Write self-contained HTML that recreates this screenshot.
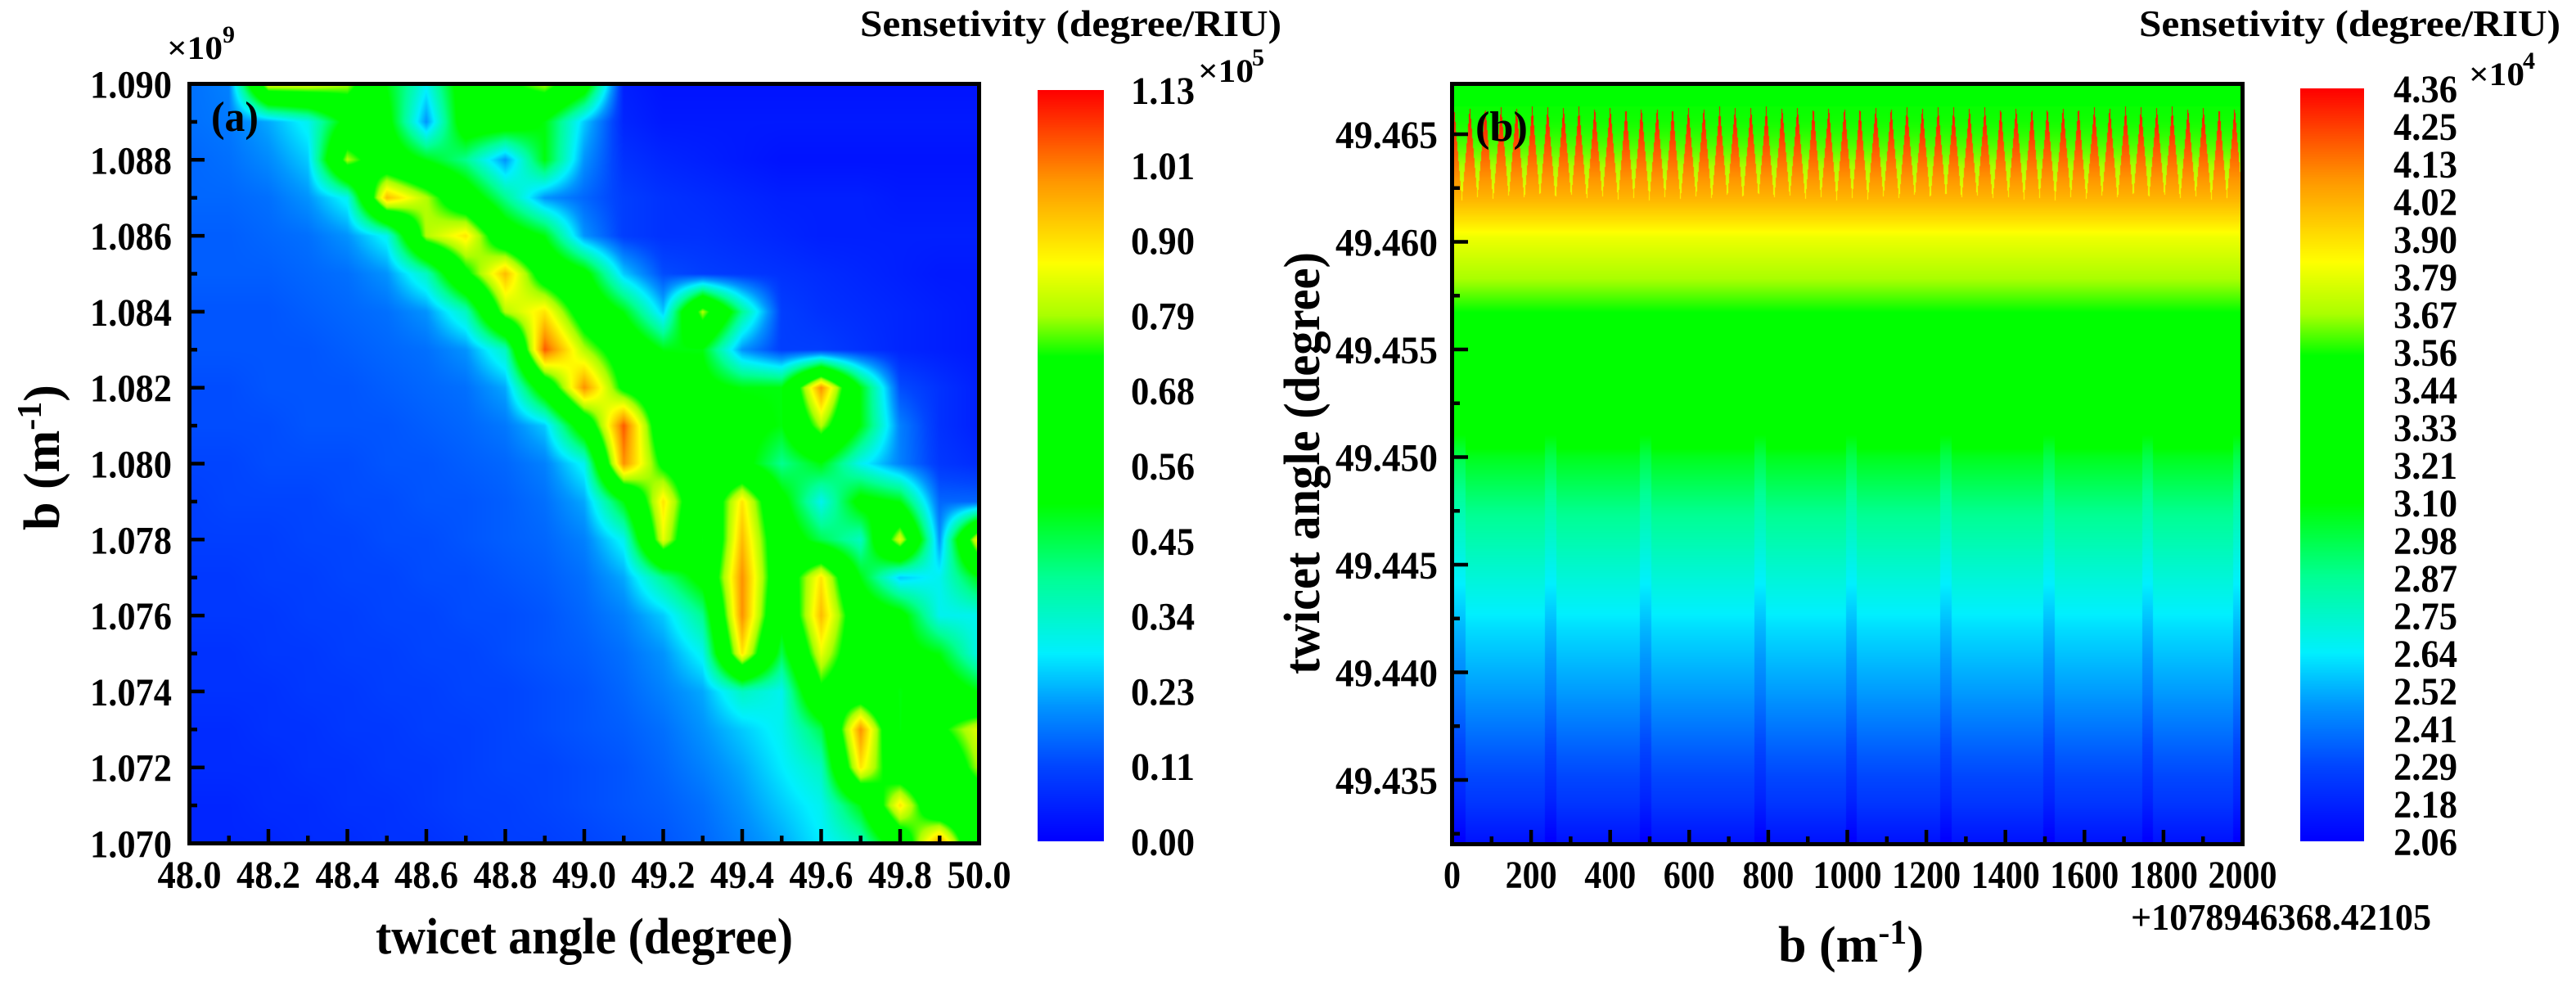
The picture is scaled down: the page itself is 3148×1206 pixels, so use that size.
<!DOCTYPE html>
<html><head><meta charset="utf-8"><style>
html,body{margin:0;padding:0;background:#fff;}
#root{position:relative;width:3148px;height:1206px;overflow:hidden;background:#fff;}
canvas{position:absolute;}
svg{position:absolute;left:0;top:0;}
text{font-family:"Liberation Serif",serif;font-weight:bold;fill:#000;}
</style></head><body>
<div id="root">
<canvas id="ca" style="left:234px;top:105px" width="960" height="923"></canvas>
<canvas id="cb" style="left:1777px;top:105px" width="962" height="925"></canvas>
<canvas id="cbarA" style="left:1268px;top:110px" width="81" height="918"></canvas>
<canvas id="cbarB" style="left:2811px;top:108px" width="78" height="920"></canvas>
<svg id="ov" width="3148" height="1206"></svg>
</div>
<script>
// ---------- data: panel (a) ----------
const aXCats = [48.0,48.1,48.2,48.3,48.4,48.5,48.6,48.7,48.8,48.9,49.0,49.1,49.2,49.3,49.4,49.5,49.6,49.7,49.8,49.9,50.0];
const aYCats = [1.090,1.089,1.088,1.087,1.086,1.085,1.084,1.083,1.082,1.081,1.080,1.079,1.078,1.077,1.076,1.075,1.074,1.073,1.072,1.071,1.070];
// sensitivity (x1e4 degree/RIU), rows top->bottom
const aRow00=[1.6,1.8,8.5,8.5,8,5,3,6,7,8,6,0.5,0.3,0.3,0.3,0.3,0.3,0.3,0.3,0.3,0.3];
const aRow01=[1.6,1.7,2.2,3,5.5,5.5,2,6,6,5,2.5,0.6,0.4,0.4,0.4,0.4,0.4,0.4,0.4,0.4,0.4];
const aRow02=[1.5,1.6,1.9,2.5,8,6,5,4,2,5,2,0.8,0.6,0.5,0.4,0.3,0.3,0.3,0.3,0.3,0.3];
const aRow03=[1.5,1.5,1.6,2.0,3,9.5,8,6,4,2,1.5,1.0,0.8,0.7,0.6,0.5,0.5,0.5,0.4,0.4,0.4];
const aRow04=[1.4,1.4,1.5,1.6,2.0,3,8,9,6,5,2,1.0,0.8,0.8,0.7,0.6,0.5,0.5,0.5,0.5,0.5];
const aRow05=[1.4,1.4,1.4,1.5,1.6,2.0,3.5,7,9.5,6.5,5.5,2.5,1.2,1,0.9,0.8,0.7,0.6,0.5,0.4,0.4];
const aRow06=[1.3,1.3,1.3,1.4,1.5,1.6,2.0,3.5,8,9,6.5,5,2.5,8,4,1.0,0.8,0.7,0.6,0.5,0.4];
const aRow07=[1.3,1.3,1.3,1.3,1.4,1.5,1.6,2.0,3.5,10.5,8,6.5,5,5,2,1.0,1.0,0.8,0.6,0.5,0.4];
const aRow08=[1.2,1.2,1.3,1.3,1.3,1.4,1.5,1.6,2.2,6,10,7,6,5.5,5,5,10,5,1.2,0.8,0.5];
const aRow09=[1.2,1.2,1.2,1.3,1.3,1.3,1.4,1.5,1.7,2.5,6,10.5,6,6,5.5,5,8,5,1.8,0.8,0.5];
const aRow10=[1.1,1.1,1.2,1.2,1.2,1.3,1.3,1.4,1.5,1.8,3,10,7,6,5.5,4,5,3,1.8,0.9,0.7];
const aRow11=[1.0,1.1,1.1,1.1,1.2,1.2,1.3,1.3,1.4,1.6,2.2,5,9,5.5,9,5.5,3,5.5,5,1.5,1.5];
const aRow12=[1.0,1.0,1.0,1.1,1.1,1.2,1.2,1.3,1.4,1.5,1.8,3,8.5,5,9.5,6,4.5,3.5,8.5,2,9];
const aRow13=[0.9,0.9,1.0,1.0,1.1,1.1,1.2,1.2,1.3,1.4,1.6,2.2,4,5.5,10,6,9,5,2.5,3,5];
const aRow14=[0.9,0.9,0.9,1.0,1.0,1.1,1.1,1.2,1.2,1.3,1.5,1.8,2.5,4,10,5.5,9.5,6,5.5,3,3];
const aRow15=[0.8,0.8,0.9,0.9,1.0,1.0,1.1,1.1,1.2,1.3,1.4,1.6,2,3,9,4.5,8.5,6,5.5,5,3];
const aRow16=[0.8,0.8,0.8,0.9,0.9,1.0,1.0,1.1,1.1,1.2,1.3,1.5,1.8,2.2,3.5,3,7,6,5,6,5];
const aRow17=[0.7,0.7,0.8,0.8,0.9,0.9,1.0,1.0,1.1,1.2,1.3,1.4,1.6,2,2.5,3,4.5,10,5,7,8.5];
const aRow18=[0.7,0.7,0.7,0.8,0.8,0.9,0.9,1.0,1.1,1.1,1.2,1.3,1.5,1.8,2.2,2.8,3.5,9,6,5.5,8];
const aRow19=[0.6,0.6,0.7,0.7,0.8,0.8,0.9,1.0,1.0,1.1,1.2,1.3,1.4,1.6,2,2.5,3,5,9,5.5,6];
const aRow20=[0.6,0.6,0.6,0.7,0.7,0.8,0.8,0.9,1.0,1.0,1.1,1.2,1.3,1.5,1.8,2.2,2.8,3.5,6,10,5];
const aGrid=[aRow00,aRow01,aRow02,aRow03,aRow04,aRow05,aRow06,aRow07,aRow08,aRow09,aRow10,aRow11,aRow12,aRow13,aRow14,aRow15,aRow16,aRow17,aRow18,aRow19,aRow20];
const aXTicks=["48.0","48.2","48.4","48.6","48.8","49.0","49.2","49.4","49.6","49.8","50.0"];
const aYTicks=["1.070","1.072","1.074","1.076","1.078","1.080","1.082","1.084","1.086","1.088","1.090"];
const aCbarLabels=["0.00","0.11","0.23","0.34","0.45","0.56","0.68","0.79","0.90","1.01","1.13"];
const aMin=0, aMax=11.3;

// ---------- data: panel (b) ----------
const bProfileY=[49.4674,49.4669,49.4662,49.4640,49.4619,49.4610,49.4602,49.4590,49.4580,49.4568,49.4555,49.4540,49.4525,49.4500,49.4475,49.4450,49.4420,49.4390,49.4360,49.4340,49.4321];
const bProfileV=[3.5,3.5,3.55,3.9,4.0,3.9,3.8,3.72,3.65,3.55,3.45,3.4,3.32,3.05,2.88,2.75,2.6,2.48,2.33,2.24,2.12];
const bSpikes=[5,45,84,124,163,203,242,282,321,361,400,440,479,519,558,598,637,677,716,756,795,835,874,914,953,993,1032,1072,1111,1151,1190,1230,1269,1309,1348,1388,1427,1467,1506,1546,1585,1625,1664,1704,1743,1783,1822,1862,1901,1941,1980];
const bStripes=[20,250,490,780,1010,1250,1510,1760,1990];
const bXTicks=["0","200","400","600","800","1000","1200","1400","1600","1800","2000"];
const bYTicks=["49.435","49.440","49.445","49.450","49.455","49.460","49.465"];
const bCbarLabels=["2.06","2.18","2.29","2.41","2.52","2.64","2.75","2.87","2.98","3.10","3.21","3.33","3.44","3.56","3.67","3.79","3.90","4.02","4.13","4.25","4.36"];
const bMin=2.06, bMax=4.36;

// ---------- colormap ----------
const cmStops=[[0,0,0,255],[0.1,0,70,255],[0.18,0,150,255],[0.25,0,240,255],[0.35,0,255,150],[0.45,0,255,0],[0.645,0,255,0],[0.7,170,255,0],[0.77,255,255,0],[0.88,255,150,0],[1,255,0,0]];
function cmap(f){
  f=Math.max(0,Math.min(1,f));
  for(let i=1;i<cmStops.length;i++){
    if(f<=cmStops[i][0]){const a=cmStops[i-1],b=cmStops[i];const t=(f-a[0])/(b[0]-a[0]);
      return [a[1]+(b[1]-a[1])*t,a[2]+(b[2]-a[2])*t,a[3]+(b[3]-a[3])*t];}
  }
  return [255,0,0];
}
// ---------- scales ----------
const A={x0:231.5,x1:1196.5,y0:102.5,y1:1030.5,vx0:48,vx1:50,vy0:1.090,vy1:1.070};
const axA=v=>A.x0+(v-A.vx0)/(A.vx1-A.vx0)*(A.x1-A.x0);
const ayA=v=>A.y0+(A.vy0-v)/(A.vy0-A.vy1)*(A.y1-A.y0);
const B={x0:1774.5,x1:2740.5};
const axB=v=>B.x0+v/2000*(B.x1-B.x0);
const ayB=v=>164+(49.465-v)/0.005*131.5;

// ---------- draw heatmap a ----------
(function(){
  const c=document.getElementById('ca'),ctx=c.getContext('2d');
  const W=c.width,H=c.height,img=ctx.createImageData(W,H);
  const nx=aXCats.length,ny=aYCats.length;
  const gx0=axA(aXCats[0]),gx1=axA(aXCats[nx-1]),gy0=ayA(aYCats[0]),gy1=ayA(aYCats[ny-1]);
  for(let py=0;py<H;py++){
    const Y=105+py+0.5;let fy=(Y-gy0)/(gy1-gy0)*(ny-1);fy=Math.max(0,Math.min(ny-1.0001,fy));
    const j=Math.floor(fy),ty=fy-j;
    for(let px=0;px<W;px++){
      const X=234+px+0.5;let fx=(X-gx0)/(gx1-gx0)*(nx-1);fx=Math.max(0,Math.min(nx-1.0001,fx));
      const i=Math.floor(fx),tx=fx-i;
      const v=(aGrid[j][i]*(1-tx)+aGrid[j][i+1]*tx)*(1-ty)+(aGrid[j+1][i]*(1-tx)+aGrid[j+1][i+1]*tx)*ty;
      const col=cmap((v-aMin)/(aMax-aMin));const k=(py*W+px)*4;
      img.data[k]=col[0];img.data[k+1]=col[1];img.data[k+2]=col[2];img.data[k+3]=255;
    }
  }
  ctx.putImageData(img,0,0);
})();
// ---------- draw heatmap b ----------
function profB(v){
  if(v>=bProfileY[0])return bProfileV[0];
  for(let i=1;i<bProfileY.length;i++){if(v>=bProfileY[i]){const t=(bProfileY[i-1]-v)/(bProfileY[i-1]-bProfileY[i]);return bProfileV[i-1]+(bProfileV[i]-bProfileV[i-1])*t;}}
  return bProfileV[bProfileV.length-1];
}
(function(){
  const c=document.getElementById('cb'),ctx=c.getContext('2d');
  const W=c.width,H=c.height,img=ctx.createImageData(W,H);
  const half=(bSpikes[1]-bSpikes[0])/2;
  const spTop=49.4663,spBot=49.4619;
  for(let py=0;py<H;py++){
    const Y=105+py+0.5;const vy=49.465-(Y-164)/131.5*0.005;
    const base=profB(vy);
    for(let px=0;px<W;px++){
      const X=1777+px+0.5;const vx=(X-B.x0)/(B.x1-B.x0)*2000;
      let v=base;
      if(vy<spTop&&vy>spBot){
        let d=1e9;for(const s of bSpikes){const dd=Math.abs(vx-s);if(dd<d)d=dd;}
        const u=Math.min(1,d/half);const t=(spTop-vy)/(spTop-spBot);
        if(u<t) v=4.36-0.36*t+0.0*u; else v=3.55+0.3*t*t;
      }
      if(vy<49.4535){let d=1e9;for(const s of bStripes){const dd=Math.abs(vx-s);if(dd<d)d=dd;}
        if(d<14)v-=0.07;}
      const col=cmap((v-bMin)/(bMax-bMin));const k=(py*W+px)*4;
      img.data[k]=col[0];img.data[k+1]=col[1];img.data[k+2]=col[2];img.data[k+3]=255;
    }
  }
  ctx.putImageData(img,0,0);
})();
// ---------- colorbars ----------
function drawBar(id){const c=document.getElementById(id),ctx=c.getContext('2d');
  for(let y=0;y<c.height;y++){const col=cmap(1-y/(c.height-1));ctx.fillStyle=`rgb(${col[0]|0},${col[1]|0},${col[2]|0})`;ctx.fillRect(0,y,c.width,1);}}
drawBar('cbarA');drawBar('cbarB');

// ---------- SVG overlay ----------
const NS='http://www.w3.org/2000/svg',svg=document.getElementById('ov');
function el(tag,attrs,txt){const e=document.createElementNS(NS,tag);for(const k in attrs)e.setAttribute(k,attrs[k]);if(txt!==undefined)e.textContent=txt;svg.appendChild(e);return e;}
function txt(x,y,s,size,anchor,name,extra){const e=el('text',Object.assign({x:x,y:y,'font-size':size,'text-anchor':anchor||'start'},extra||{}),s);
  
  return e;}
function line(x1,y1,x2,y2,w,name){const e=el('line',{x1:x1,y1:y1,x2:x2,y2:y2,stroke:'#000','stroke-width':w});
  
  return e;}

// panel a frame
let fr=el('rect',{x:231.5,y:102.5,width:965,height:928,fill:'none',stroke:'#000','stroke-width':5});


for(let k=0;k<=20;k++){const v=48+k*0.1,x=axA(v),maj=k%2===0;line(x,1030,x,maj?1013:1021,4.5,'x-tick-a');}
aXTicks.forEach(s=>{txt(axA(parseFloat(s)),1085,s,48,'middle','x-tick-label-a',{textLength:78,lengthAdjust:'spacingAndGlyphs'});});
for(let k=0;k<=20;k++){const v=1.070+k*0.001,y=ayA(v),maj=k%2===0;line(232,y,maj?250:241,y,4.5,'y-tick-a');}
aYTicks.forEach(s=>{txt(210,ayA(parseFloat(s))+17,s,48,'end','y-tick-label-a',{textLength:100,lengthAdjust:'spacingAndGlyphs'});});
txt(714,1165,'twicet angle (degree)',62,'middle','x-axis-title-a',{textLength:510,lengthAdjust:'spacingAndGlyphs'});
let yt=txt(0,0,'',62,'middle','y-axis-title-a',{transform:'translate(72,559) rotate(-90)'});
yt.innerHTML='b (m<tspan dy="-22" font-size="42">-1</tspan><tspan dy="22">)</tspan>';
txt(204,72,'×10',40,'start','y-multiplier-a',{textLength:68,lengthAdjust:'spacingAndGlyphs'});
txt(272,52,'9',30,'start','y-multiplier-exp-a');
txt(258,160,'(a)',52,'start','panel-label-a',{textLength:58,lengthAdjust:'spacingAndGlyphs'});
txt(1051,44,'Sensetivity (degree/RIU)',46,'start','colorbar-title-a',{textLength:515,lengthAdjust:'spacingAndGlyphs'});
txt(1464,100,'×10',40,'start','colorbar-multiplier-a',{textLength:68,lengthAdjust:'spacingAndGlyphs'});
txt(1530,80,'5',30,'start','colorbar-multiplier-exp-a');
aCbarLabels.forEach((s,i)=>{const y=1028-i/(aCbarLabels.length-1)*918;txt(1382,y+17,s,48,'start','colorbar-label-a',{textLength:78,lengthAdjust:'spacingAndGlyphs'});});

// panel b frame
fr=el('rect',{x:1774.5,y:102.5,width:966,height:929,fill:'none',stroke:'#000','stroke-width':5});


for(let k=0;k<=20;k++){const v=k*100,x=axB(v),maj=k%2===0;line(x,1031,x,maj?1014:1022,4.5,'x-tick-b');}
bXTicks.forEach(s=>{const n=s.length;txt(axB(parseFloat(s)),1085,s,48,'middle','x-tick-label-b',{textLength:n*21,lengthAdjust:'spacingAndGlyphs'});});
for(let k=-1;k<=13;k++){const v=49.435+k*0.0025,y=ayB(v);if(y<104||y>1030)continue;const maj=k%2===0;line(1775,y,maj?1794:1784,y,4.5,'y-tick-b');}
bYTicks.forEach(s=>{txt(1757,ayB(parseFloat(s))+17,s,48,'end','y-tick-label-b',{textLength:125,lengthAdjust:'spacingAndGlyphs'});});
txt(2604,1136,'+1078946368.42105',46,'start','x-offset-label-b',{textLength:367,lengthAdjust:'spacingAndGlyphs'});
let xt=txt(2262,1175,'',62,'middle','x-axis-title-b');
xt.innerHTML='b (m<tspan dy="-22" font-size="42">-1</tspan><tspan dy="22">)</tspan>';
txt(0,0,'twicet angle (degree)',62,'middle','y-axis-title-b',{transform:'translate(1612,566) rotate(-90)',textLength:516,lengthAdjust:'spacingAndGlyphs'});
txt(1803,172,'(b)',52,'start','panel-label-b',{textLength:64,lengthAdjust:'spacingAndGlyphs'});
txt(2614,44,'Sensetivity (degree/RIU)',46,'start','colorbar-title-b',{textLength:515,lengthAdjust:'spacingAndGlyphs'});
txt(3017,104,'×10',40,'start','colorbar-multiplier-b',{textLength:68,lengthAdjust:'spacingAndGlyphs'});
txt(3083,84,'4',30,'start','colorbar-multiplier-exp-b');
bCbarLabels.forEach((s,i)=>{const y=1028-i/(bCbarLabels.length-1)*920;txt(2925,y+17,s,48,'start','colorbar-label-b',{textLength:78,lengthAdjust:'spacingAndGlyphs'});});
</script>
</body></html>
